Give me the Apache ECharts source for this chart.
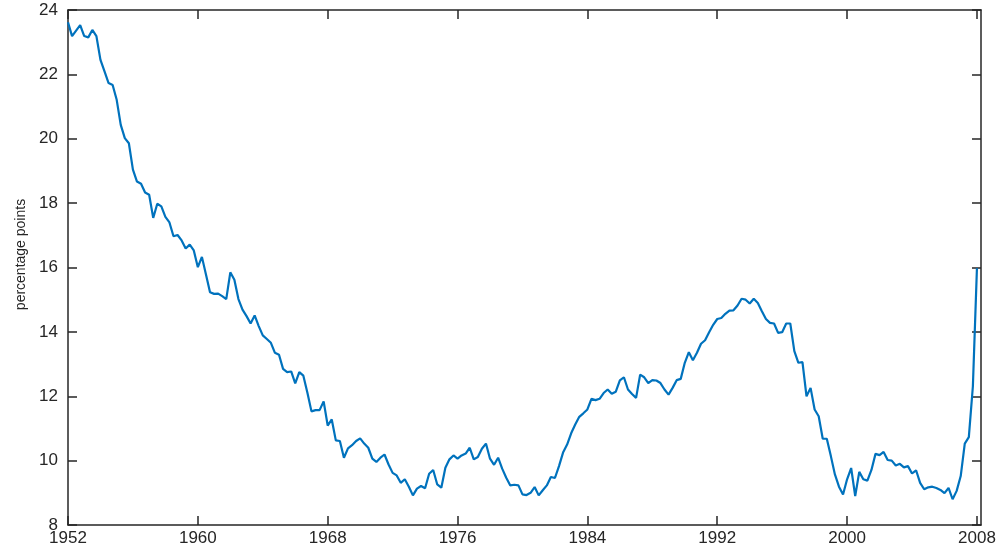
<!DOCTYPE html>
<html><head><meta charset="utf-8">
<script src="https://cdn.jsdelivr.net/npm/echarts@6/dist/echarts.min.js"></script>
<style>html,body{margin:0;padding:0;background:#fff}#c{width:1003px;height:550px}</style>
</head><body><div id="c"></div>
<script>
// Quarterly series, 1952Q1 .. 2008Q1
const startYear = 1952;
const quartersPerYear = 4;
const xTicks = [1952, 1960, 1968, 1976, 1984, 1992, 2000, 2008];
const yTicks = [8, 10, 12, 14, 16, 18, 20, 22, 24];
const yAxisTitle = 'percentage points';

const rate1952 = [
  23.62, 23.19, 23.36, 23.53, 23.19, 23.15, 23.38, 23.19,
  22.45, 22.09, 21.73, 21.67, 21.21, 20.43, 20.02, 19.86,
  19.04, 18.67, 18.60, 18.33, 18.26, 17.54, 17.98, 17.90,
  17.57, 17.40, 16.97, 17.01, 16.84, 16.59, 16.71, 16.53
];
const rate1960 = [
  16.01, 16.33, 15.78, 15.23, 15.18, 15.19, 15.11, 15.02,
  15.85, 15.62, 15.02, 14.69, 14.49, 14.26, 14.51, 14.18,
  13.89, 13.78, 13.66, 13.35, 13.29, 12.85, 12.75, 12.77,
  12.40, 12.75, 12.64, 12.11, 11.53, 11.57, 11.57, 11.84
];
const rate1968 = [
  11.09, 11.28, 10.63, 10.61, 10.09, 10.38, 10.48, 10.61,
  10.69, 10.53, 10.40, 10.06, 9.96, 10.09, 10.19, 9.88,
  9.62, 9.54, 9.31, 9.42, 9.19, 8.92, 9.13, 9.21,
  9.14, 9.59, 9.71, 9.26, 9.16, 9.78, 10.04, 10.16,
  10.06
];
const rate1976 = [
  10.16, 10.22, 10.40, 10.04, 10.11, 10.37, 10.53, 10.06,
  9.87, 10.09, 9.75, 9.47, 9.23, 9.25, 9.23, 8.95,
  8.93, 9.00, 9.18, 8.92, 9.08, 9.23, 9.49, 9.46,
  9.83, 10.25, 10.50, 10.85, 11.12, 11.36, 11.47
];
const rate1984 = [
  11.59, 11.92, 11.88, 11.92, 12.10, 12.21, 12.08, 12.14,
  12.49, 12.59, 12.21, 12.07, 11.95, 12.67, 12.59, 12.41,
  12.50, 12.49, 12.41, 12.21, 12.05, 12.26, 12.50, 12.54,
  13.04, 13.37, 13.12, 13.35, 13.63, 13.74, 13.99, 14.22,
  14.40
];
const rate1992 = [
  14.43, 14.56, 14.66, 14.67, 14.82, 15.03, 15.00, 14.88,
  15.03, 14.90, 14.64, 14.40, 14.28, 14.26, 13.97, 13.99,
  14.26, 14.26, 13.40, 13.04, 13.06, 12.00, 12.26, 11.59,
  11.38, 10.68, 10.68, 10.14, 9.57, 9.19, 8.95
];
const rate2000 = [
  9.42, 9.77, 8.90, 9.65, 9.42, 9.38, 9.71, 10.21,
  10.17, 10.27, 10.02, 10.00, 9.85, 9.90, 9.79, 9.83,
  9.60, 9.70, 9.31, 9.11, 9.17, 9.19, 9.15, 9.09,
  8.99, 9.15, 8.80, 9.06, 9.52, 10.53, 10.73, 12.31,
  15.98
];

const rate = [].concat(rate1952, rate1960, rate1968, rate1976, rate1984, rate1992, rate2000);
const points = rate.map((v, i) => [startYear + i / quartersPerYear, v]);

const ink = '#262626';
const tickFont = "'Liberation Sans', Arial, sans-serif";
const lineW = 1.5;

function xAx(pos, labels) {
  return {
    type: 'value', position: pos, min: 1952, max: 2008.25, interval: 8,
    axisLine: { show: true, onZero: false, lineStyle: { color: ink, width: lineW } },
    axisTick: { show: true, inside: true, length: 9, customValues: xTicks, lineStyle: { color: ink, width: lineW } },
    axisLabel: { show: labels, customValues: xTicks, color: ink, fontFamily: tickFont, fontSize: 17, margin: 5,
      formatter: v => String(v) },
    splitLine: { show: false }
  };
}
function yAx(pos, labels) {
  const a = {
    type: 'value', position: pos, min: 8, max: 24, interval: 2,
    axisLine: { show: true, onZero: false, lineStyle: { color: ink, width: lineW } },
    axisTick: { show: true, inside: true, length: 9, customValues: yTicks, lineStyle: { color: ink, width: lineW } },
    axisLabel: { show: labels, customValues: yTicks, color: ink, fontFamily: tickFont, fontSize: 17, margin: 10,
      formatter: v => String(v) },
    splitLine: { show: false }
  };
  if (labels) {
    a.name = yAxisTitle;
    a.nameLocation = 'middle';
    a.nameGap = 40;
    a.nameTextStyle = { color: ink, fontSize: 14, fontFamily: "'Liberation Sans Narrow','Liberation Sans'", padding: [0, 0, 0, 26] };
  }
  return a;
}

const chart = echarts.init(document.getElementById('c'), null, { renderer: 'canvas' });
chart.setOption({
  animation: false,
  backgroundColor: '#ffffff',
  grid: { left: 68, right: 22, top: 10, bottom: 25, containLabel: false },
  xAxis: [xAx('bottom', true), xAx('top', false)],
  yAxis: [yAx('left', true), yAx('right', false)],
  series: [{
    type: 'line', xAxisIndex: 0, yAxisIndex: 0, data: points,
    showSymbol: false, symbol: 'none',
    lineStyle: { color: '#0072BD', width: 2.2 }
  }]
});
</script>
</body></html>
